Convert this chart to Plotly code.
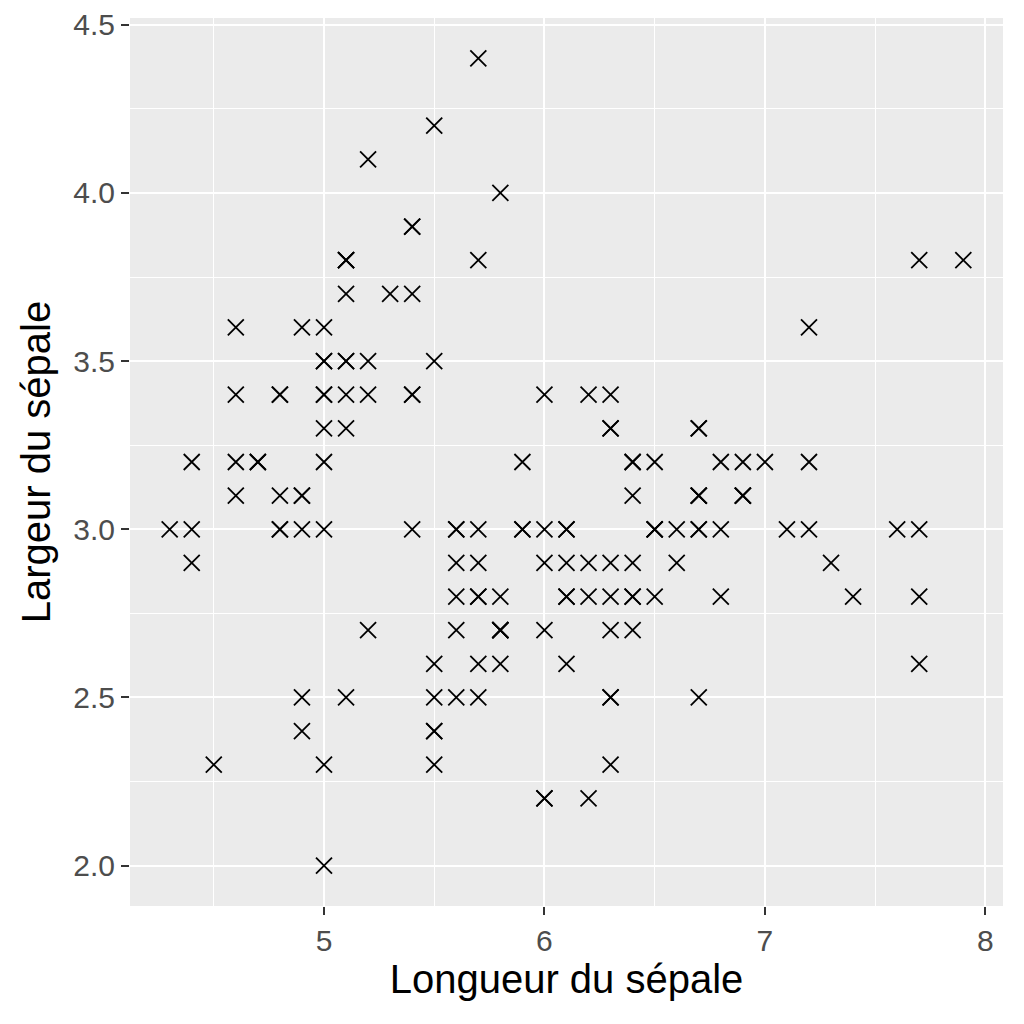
import plotly.graph_objects as go

# iris sepal measurements
sepal_length = [
    5.1, 4.9, 4.7, 4.6, 5.0, 5.4, 4.6, 5.0, 4.4, 4.9, 5.4, 4.8, 4.8, 4.3, 5.8, 5.7, 5.4, 5.1, 5.7, 5.1,
    5.4, 5.1, 4.6, 5.1, 4.8, 5.0, 5.0, 5.2, 5.2, 4.7, 4.8, 5.4, 5.2, 5.5, 4.9, 5.0, 5.5, 4.9, 4.4, 5.1,
    5.0, 4.5, 4.4, 5.0, 5.1, 4.8, 5.1, 4.6, 5.3, 5.0,
    7.0, 6.4, 6.9, 5.5, 6.5, 5.7, 6.3, 4.9, 6.6, 5.2, 5.0, 5.9, 6.0, 6.1, 5.6, 6.7, 5.6, 5.8, 6.2, 5.6,
    5.9, 6.1, 6.3, 6.1, 6.4, 6.6, 6.8, 6.7, 6.0, 5.7, 5.5, 5.5, 5.8, 6.0, 5.4, 6.0, 6.7, 6.3, 5.6, 5.5,
    5.5, 6.1, 5.8, 5.0, 5.6, 5.7, 5.7, 6.2, 5.1, 5.7,
    6.3, 5.8, 7.1, 6.3, 6.5, 7.6, 4.9, 7.3, 6.7, 7.2, 6.5, 6.4, 6.8, 5.7, 5.8, 6.4, 6.5, 7.7, 7.7, 6.0,
    6.9, 5.6, 7.7, 6.3, 6.7, 7.2, 6.2, 6.1, 6.4, 7.2, 7.4, 7.9, 6.4, 6.3, 6.1, 7.7, 6.3, 6.4, 6.0, 6.9,
    6.7, 6.9, 5.8, 6.8, 6.7, 6.7, 6.3, 6.5, 6.2, 5.9,
]
sepal_width = [
    3.5, 3.0, 3.2, 3.1, 3.6, 3.9, 3.4, 3.4, 2.9, 3.1, 3.7, 3.4, 3.0, 3.0, 4.0, 4.4, 3.9, 3.5, 3.8, 3.8,
    3.4, 3.7, 3.6, 3.3, 3.4, 3.0, 3.4, 3.5, 3.4, 3.2, 3.1, 3.4, 4.1, 4.2, 3.1, 3.2, 3.5, 3.6, 3.0, 3.4,
    3.5, 2.3, 3.2, 3.5, 3.8, 3.0, 3.8, 3.2, 3.7, 3.3,
    3.2, 3.2, 3.1, 2.3, 2.8, 2.8, 3.3, 2.4, 2.9, 2.7, 2.0, 3.0, 2.2, 2.9, 2.9, 3.1, 3.0, 2.7, 2.2, 2.5,
    3.2, 2.8, 2.5, 2.8, 2.9, 3.0, 2.8, 3.0, 2.9, 2.6, 2.4, 2.4, 2.7, 2.7, 3.0, 3.4, 3.1, 2.3, 3.0, 2.5,
    2.6, 3.0, 2.6, 2.3, 2.7, 3.0, 2.9, 2.9, 2.5, 2.8,
    3.3, 2.7, 3.0, 2.9, 3.0, 3.0, 2.5, 2.9, 2.5, 3.6, 3.2, 2.7, 3.0, 2.5, 2.8, 3.2, 3.0, 3.8, 2.6, 2.2,
    3.2, 2.8, 2.8, 2.7, 3.3, 3.2, 2.8, 3.0, 2.8, 3.0, 2.8, 3.8, 2.8, 2.8, 2.6, 3.0, 3.4, 3.1, 3.0, 3.1,
    3.1, 3.1, 2.7, 3.2, 3.3, 3.0, 2.5, 3.0, 3.4, 3.0,
]

x_ticks = [5, 6, 7, 8]
y_ticks = [2.0, 2.5, 3.0, 3.5, 4.0, 4.5]

fig = go.Figure()
fig.add_trace(go.Scatter(
    x=sepal_length, y=sepal_width, mode='markers',
    marker=dict(symbol='x-thin-open', size=16, color='black',
                line=dict(color='black', width=1.8)),
    showlegend=False,
))

axis_common = dict(
    automargin=False,
    showgrid=True, gridcolor='white', gridwidth=2.2,
    minor=dict(showgrid=True, gridcolor='white', gridwidth=1.1),
    zeroline=False, showline=False,
    ticks='outside', ticklen=8, tickwidth=2, tickcolor='#333333',
    tickfont=dict(size=30, color='#4D4D4D'),
)

fig.update_xaxes(
    range=[4.12, 8.08], tickvals=x_ticks, ticktext=[str(v) for v in x_ticks],
    minor_dtick=0.5, minor_tick0=4.5,
    title=dict(text='Longueur du sépale', font=dict(size=40, color='black'), standoff=8),
    **axis_common,
)
fig.update_yaxes(
    range=[1.88, 4.52], tickvals=y_ticks, ticktext=['%.1f' % v for v in y_ticks],
    minor_dtick=0.5, minor_tick0=2.25,
    title=dict(text='Largeur du sépale', font=dict(size=40, color='black'), standoff=10),
    **axis_common,
)

# the page body adds 8px, so margins are shifted to put the panel where it is in the reference
fig.update_layout(
    width=1024, height=1024,
    margin=dict(l=122, r=29, t=10, b=126),
    plot_bgcolor='#EBEBEB', paper_bgcolor='white',
    font=dict(family='Liberation Sans, Arial, sans-serif'),
)

fig.write_html('out.html')
